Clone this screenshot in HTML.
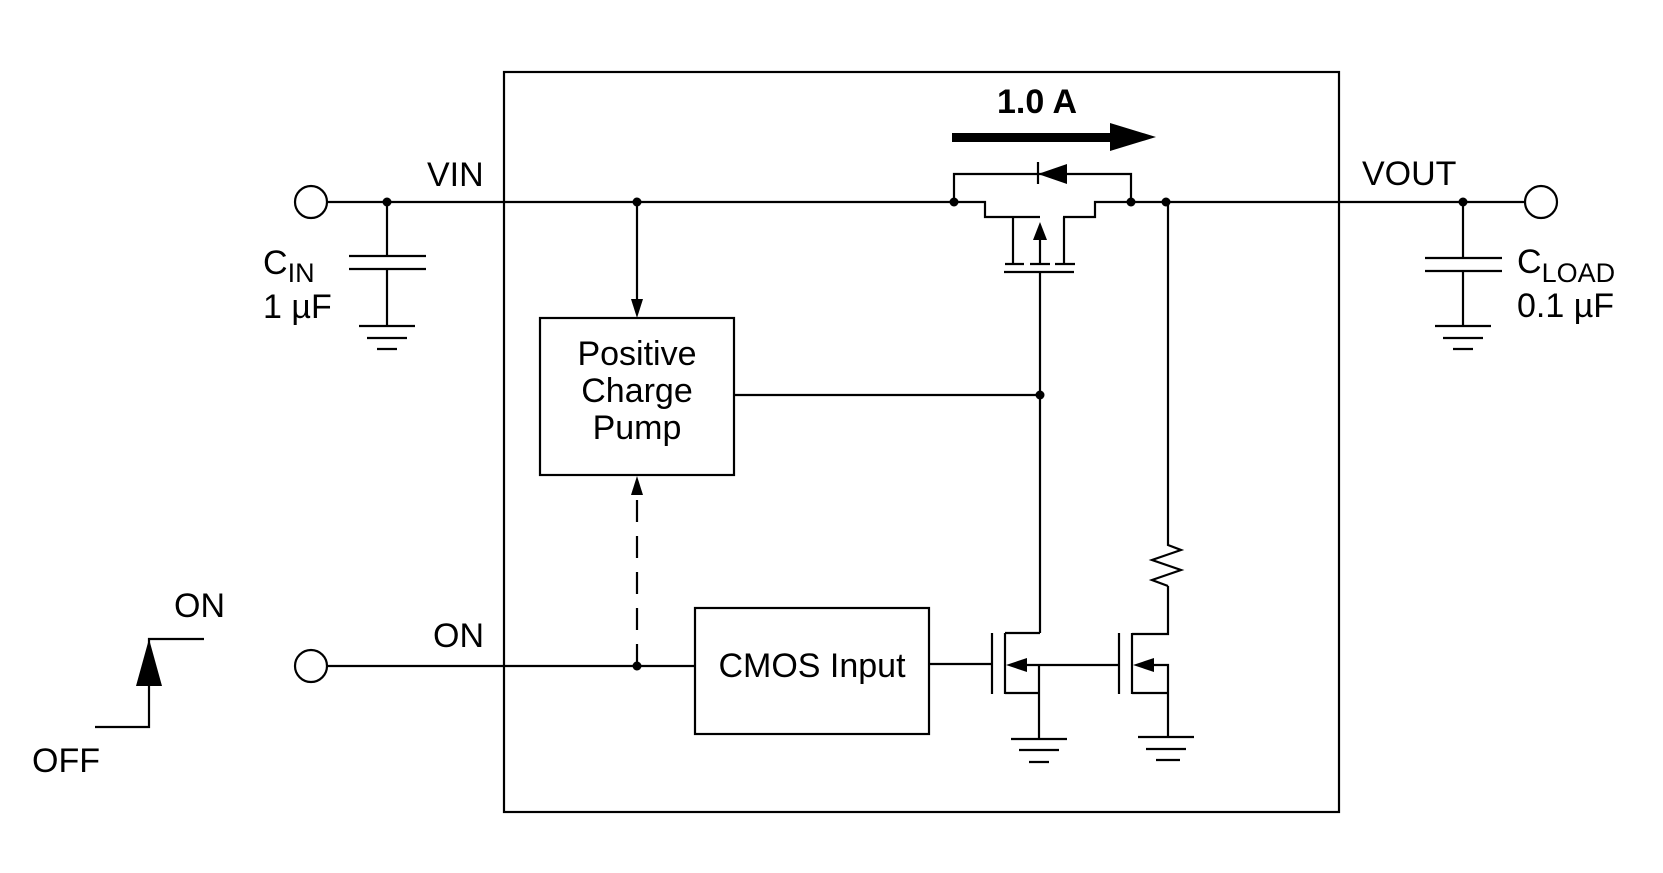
<!DOCTYPE html>
<html><head><meta charset="utf-8"><style>
html,body{margin:0;padding:0;background:#fff;}
svg{display:block;}
text{font-family:"Liberation Sans",Arial,sans-serif;fill:#000;}
</style></head><body>
<svg width="1663" height="873" viewBox="0 0 1663 873" xmlns="http://www.w3.org/2000/svg">
<g stroke="#000" stroke-width="2.2" fill="none">
<rect x="504" y="72" width="835" height="740"/>
<line x1="327" y1="202" x2="954" y2="202"/>
<polyline points="954,202 985,202 985,217 1040,217"/>
<polyline points="1063,217 1095,217 1095,202 1525,202"/>
<circle cx="311" cy="202" r="16"/>
<circle cx="1541" cy="202" r="16"/>
<polyline points="954,202 954,174 1131,174 1131,202"/>
<line x1="1038" y1="162" x2="1038" y2="184"/>
<line x1="1013" y1="217" x2="1013" y2="264"/>
<line x1="1064" y1="217" x2="1064" y2="264"/>
<line x1="1040" y1="238" x2="1040" y2="264"/>
<line x1="1005" y1="264" x2="1024" y2="264"/>
<line x1="1030" y1="264" x2="1050" y2="264"/>
<line x1="1055" y1="264" x2="1075" y2="264"/>
<line x1="1004" y1="272" x2="1074" y2="272"/>
<line x1="1040" y1="272" x2="1040" y2="633"/>
<line x1="1005" y1="633" x2="1040" y2="633"/>
<line x1="387" y1="202" x2="387" y2="256"/>
<line x1="349" y1="256" x2="426" y2="256"/>
<line x1="349" y1="269" x2="426" y2="269"/>
<line x1="387" y1="269" x2="387" y2="326"/>
<line x1="359" y1="326" x2="415" y2="326"/>
<line x1="367" y1="338" x2="407" y2="338"/>
<line x1="377" y1="349" x2="397" y2="349"/>
<line x1="1463" y1="202" x2="1463" y2="258"/>
<line x1="1425" y1="258" x2="1502" y2="258"/>
<line x1="1425" y1="271" x2="1502" y2="271"/>
<line x1="1463" y1="271" x2="1463" y2="326"/>
<line x1="1435" y1="326" x2="1491" y2="326"/>
<line x1="1443" y1="338" x2="1483" y2="338"/>
<line x1="1453" y1="349" x2="1473" y2="349"/>
<line x1="637" y1="202" x2="637" y2="300"/>
<rect x="540" y="318" width="194" height="157"/>
<line x1="734" y1="395" x2="1040" y2="395"/>
<line x1="637" y1="666" x2="637" y2="496" stroke-dasharray="22,14"/>
<circle cx="311" cy="666" r="16"/>
<line x1="327" y1="666" x2="695" y2="666"/>
<rect x="695" y="608" width="234" height="126"/>
<line x1="929" y1="664" x2="992" y2="664"/>
<line x1="992" y1="633" x2="992" y2="694"/>
<line x1="1005" y1="633" x2="1005" y2="694"/>
<line x1="1020" y1="665" x2="1119" y2="665"/>
<line x1="1005" y1="693" x2="1039" y2="693"/>
<line x1="1039" y1="665" x2="1039" y2="739"/>
<line x1="1011" y1="739" x2="1067" y2="739"/>
<line x1="1019" y1="750" x2="1059" y2="750"/>
<line x1="1029" y1="762" x2="1049" y2="762"/>
<line x1="1119" y1="633" x2="1119" y2="694"/>
<line x1="1132" y1="633" x2="1132" y2="694"/>
<polyline points="1132,634 1168,634 1168,586"/>
<polyline points="1168,586 1152,580 1181,570 1152,560 1181,550 1168,545 1168,202"/>
<polyline points="1150,665 1168,665 1168,737"/>
<line x1="1132" y1="693" x2="1168" y2="693"/>
<line x1="1138" y1="737" x2="1194" y2="737"/>
<line x1="1146" y1="749" x2="1186" y2="749"/>
<line x1="1156" y1="760" x2="1180" y2="760"/>
<polyline points="204,639 149,639 149,727 95,727"/>
</g>
<g fill="#000">
<circle cx="387" cy="202" r="4.5"/><circle cx="637" cy="202" r="4.5"/>
<circle cx="954" cy="202" r="4.5"/><circle cx="1131" cy="202" r="4.5"/>
<circle cx="1166" cy="202" r="4.5"/><circle cx="1463" cy="202" r="4.5"/>
<circle cx="1040" cy="395" r="4.5"/><circle cx="637" cy="666" r="4.5"/>
<polygon points="1038,174 1067,164 1067,184"/>
<polygon points="1040,222 1033,240 1047,240"/>
<rect x="952" y="133" width="160" height="9"/>
<polygon points="1110,123 1156,137 1110,151"/>
<polygon points="637,318 631,299 643,299"/>
<polygon points="637,476 631,495 643,495"/>
<polygon points="1006,665 1027,658 1027,672"/>
<polygon points="1133,665 1154,658 1154,672"/>
<polygon points="149,639 136,686 162,686"/>
</g>
<g font-size="34">
<text x="997" y="113" font-weight="bold" font-size="34">1.0 A</text>
<text x="427" y="186">VIN</text>
<text x="1362" y="185">VOUT</text>
<text x="263" y="274">C<tspan font-size="27" dy="8">IN</tspan></text>
<text x="263" y="318">1 µF</text>
<text x="1517" y="273">C<tspan font-size="27" dy="9">LOAD</tspan></text>
<text x="1517" y="317">0.1 µF</text>
<text x="637" y="365" text-anchor="middle">Positive</text>
<text x="637" y="402" text-anchor="middle">Charge</text>
<text x="637" y="439" text-anchor="middle">Pump</text>
<text x="812" y="677" text-anchor="middle">CMOS Input</text>
<text x="433" y="647">ON</text>
<text x="174" y="617">ON</text>
<text x="32" y="772">OFF</text>
</g>
</svg>
</body></html>
